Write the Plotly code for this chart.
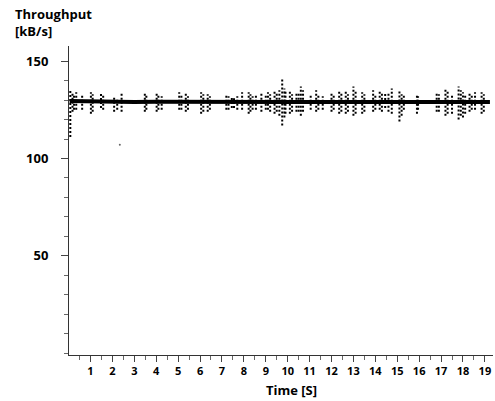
import plotly.graph_objects as go

# Baseline throughput (dense band)
base_t = [0.05, 1, 2, 3, 4, 5, 6, 7, 8, 9, 10, 11, 12, 13, 14, 15, 16, 17, 18, 19, 19.23]
base_v = [129.5, 129.2, 129.0, 129.0, 129.1, 129.0, 129.0, 128.9, 129.0, 129.1,
          129.0, 129.0, 129.1, 129.0, 129.0, 128.9, 129.0, 129.0, 129.1, 129.0, 129.0]

# Scattered clusters of samples around the baseline: time, lowest and highest value
clu_t = [0.08, 0.18, 0.25, 0.35, 0.62, 1.02, 1.1, 1.48, 1.58, 2.08, 2.22, 2.42, 3.48, 3.55,
         4.02, 4.1, 4.25, 5.05, 5.15, 5.35, 5.45, 6.05, 6.15, 6.35, 6.45, 7.2, 7.3, 7.45,
         7.55, 7.7, 7.92, 8.22, 8.3, 8.4, 8.55, 8.8, 9.0, 9.1, 9.2, 9.4, 9.5, 9.62, 9.75,
         9.85, 9.9, 10.1, 10.2, 10.4, 10.5, 10.6, 10.7, 11.05, 11.3, 11.4, 11.6, 12.0,
         12.1, 12.35, 12.45, 12.65, 12.75, 13.0, 13.1, 13.4, 13.5, 13.9, 14.0, 14.2, 14.3,
         14.45, 14.6, 14.75, 15.1, 15.2, 15.3, 15.9, 15.95, 16.8, 16.9, 17.2, 17.3, 17.5,
         17.8, 17.9, 18.0, 18.1, 18.3, 18.4, 18.55, 18.85, 18.95]
clu_lo = [111, 124, 125, 125, 125, 123, 124, 126, 125, 124, 125, 124, 124, 125,
          124, 125, 125, 125, 125, 124, 125, 123, 124, 124, 125, 125, 125, 126,
          126, 125, 125, 123, 124, 125, 125, 124, 125, 125, 124, 123, 124, 122, 117,
          121, 123, 123, 124, 124, 124, 122, 124, 125, 124, 125, 125, 124,
          125, 123, 124, 123, 124, 122, 123, 123, 124, 124, 125, 125, 124,
          126, 124, 123, 119, 122, 125, 123, 125, 124, 124, 122, 123, 123,
          120, 122, 121, 123, 124, 125, 125, 123, 124]
clu_hi = [135, 134, 133, 134, 133, 134, 133, 134, 133, 132, 131, 134, 134, 133,
          134, 133, 132, 134, 133, 134, 132, 134, 133, 133, 132, 133, 132, 132,
          131, 132, 134, 134, 133, 132, 133, 134, 133, 134, 133, 135, 134, 135, 141,
          136, 135, 135, 133, 134, 134, 137, 135, 133, 135, 133, 132, 134,
          133, 135, 134, 135, 133, 137, 135, 134, 133, 135, 133, 135, 134,
          134, 134, 136, 135, 133, 133, 133, 132, 134, 133, 136, 135, 133,
          137, 135, 134, 133, 134, 133, 134, 134, 133]

# Isolated stray sample
stray_t = [2.34]
stray_v = [107]

x_ticks = list(range(1, 20))
y_ticks = [50, 100, 150]

FONT = "Open Sans"
PLOT_H = 309

cx, cy = [], []
for t, lo, hi in zip(clu_t, clu_lo, clu_hi):
    cx += [t, t, None]
    cy += [lo, hi, None]

fig = go.Figure()
fig.add_trace(go.Scatter(x=cx, y=cy, mode="lines",
                         line=dict(color="black", width=2, dash="2px,2px"),
                         hoverinfo="skip", showlegend=False))
fig.add_trace(go.Scatter(x=base_t, y=base_v, mode="lines",
                         line=dict(color="black", width=4),
                         showlegend=False))
fig.add_trace(go.Scatter(x=stray_t, y=stray_v, mode="markers",
                         marker=dict(color="#666", size=2),
                         showlegend=False))

fig.update_layout(
    width=495, height=401,
    margin=dict(l=69, r=2, t=46, b=46, autoexpand=False),
    paper_bgcolor="white", plot_bgcolor="white",
    font=dict(family=FONT, color="black"),
    xaxis=dict(range=[0.02, 19.37], tickvals=x_ticks, ticktext=[str(v) for v in x_ticks],
               automargin=False,
               showgrid=False, zeroline=False, showline=True, linecolor="#333", linewidth=1,
               ticks="outside", ticklen=6, tickcolor="#444", tickwidth=1,
               tickfont=dict(family=FONT, size=11, color="black", weight="bold"),
               minor=dict(dtick=0.5, tick0=0, ticks="outside", ticklen=4, tickcolor="#666")),
    yaxis=dict(range=[-1, 157.8], tickvals=y_ticks, ticktext=[str(v) for v in y_ticks],
               automargin=False,
               showgrid=False, zeroline=False, showline=True, linecolor="#333", linewidth=1,
               ticks="outside", ticklen=7, tickcolor="#444", tickwidth=1,
               ticklabelstandoff=10,
               tickfont=dict(family=FONT, size=13, color="black", weight="bold"),
               minor=dict(dtick=10, tick0=0, ticks="outside", ticklen=4, tickcolor="#666")),
    annotations=[
        dict(text="Throughput<br>[kB/s]", xref="paper", yref="paper", x=-56/424, y=1 + 43/PLOT_H,
             xanchor="left", yanchor="top", showarrow=False, align="left",
             font=dict(family=FONT, size=13, color="black", weight="bold")),
        dict(text="Time [S]", xref="x", yref="paper", x=10.17, y=-35/PLOT_H,
             xanchor="center", yanchor="middle", showarrow=False,
             font=dict(family=FONT, size=13, color="black", weight="bold")),
    ],
)

fig.write_html("out.html", config={"displayModeBar": False},
               post_script="document.body.style.margin='0';document.body.style.overflow='hidden';")
